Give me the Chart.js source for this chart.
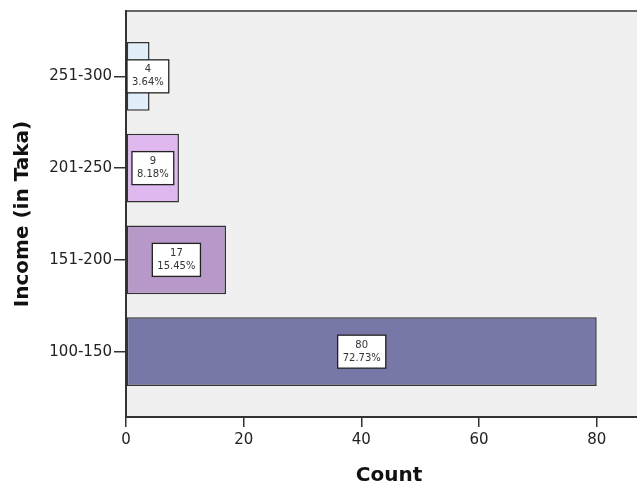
<!DOCTYPE html>
<html>
<head>
<meta charset="utf-8">
<script src="https://cdn.jsdelivr.net/npm/chart.js@4"></script>
<style>
  body { margin: 0; background: #fff; }
  #wrap { width: 637px; height: 489px; overflow: hidden; }
</style>
</head>
<body>
<div id="wrap"><canvas id="chart" width="652" height="489"></canvas></div>
<script>
// data, bottom bar first
const categories = ['100-150', '151-200', '201-250', '251-300']
const counts = [80, 17, 9, 4]
const percents = ['72.73%', '15.45%', '8.18%', '3.64%']
const xTickValues = [0, 20, 40, 60, 80]
const yTickValues = [0, 1, 2, 3]

const barColors = ['#7878a8', '#b898c8', '#e0b8f0', '#e2eef9']

Chart.defaults.font.family = "'DejaVu Sans', sans-serif"
Chart.defaults.color = '#222'

// grey plot background and top frame line
const plotFrame = {
  id: 'plotFrame',
  beforeDraw(chart) {
    const { ctx, chartArea: a } = chart
    ctx.save()
    ctx.fillStyle = '#f0f0f0'
    ctx.fillRect(a.left, a.top, a.right - a.left, a.bottom - a.top)
    ctx.strokeStyle = '#666'
    ctx.lineWidth = 2
    ctx.beginPath()
    ctx.moveTo(a.left, a.top)
    ctx.lineTo(a.right, a.top)
    ctx.stroke()
    ctx.restore()
  }
}

// white boxes with count and percent
const boxLabels = {
  id: 'boxLabels',
  afterDatasetsDraw(chart) {
    const { ctx, chartArea: a } = chart
    const meta = chart.getDatasetMeta(0)
    ctx.save()
    ctx.font = "10px 'DejaVu Sans'"
    ctx.textAlign = 'center'
    ctx.textBaseline = 'middle'
    meta.data.forEach((bar, i) => {
      const top = String(counts[i])
      const bottom = percents[i]
      const w = Math.max(ctx.measureText(top).width, ctx.measureText(bottom).width) + 10
      const h = 33
      let left = (bar.x + bar.base) / 2 - w / 2
      if (left < a.left + 1) left = a.left + 1
      ctx.fillStyle = '#fff'
      ctx.fillRect(left, bar.y - h / 2, w, h)
      ctx.strokeStyle = '#222'
      ctx.lineWidth = 1.3
      ctx.strokeRect(left, bar.y - h / 2, w, h)
      ctx.fillStyle = '#333'
      ctx.fillText(top, left + w / 2, bar.y - 6.5)
      ctx.fillText(bottom, left + w / 2, bar.y + 6.5)
    })
    ctx.restore()
  }
}

new Chart(document.querySelector('#chart'), {
  type: 'bar',
  data: {
    datasets: [{
      data: counts.map((c, i) => ({ x: c, y: yTickValues[i] })),
      backgroundColor: barColors,
      borderColor: '#333',
      borderWidth: 1.5,
      borderSkipped: false,
      categoryPercentage: 1,
      barPercentage: 0.75
    }]
  },
  options: {
    indexAxis: 'y',
    responsive: false,
    animation: false,
    devicePixelRatio: 1,
    layout: { padding: { top: 7, left: 0, right: 0, bottom: 0 } },
    plugins: {
      legend: { display: false },
      tooltip: { enabled: false }
    },
    scales: {
      x: {
        type: 'linear',
        min: 0,
        max: 89.4,
        afterBuildTicks: (s) => { s.ticks = xTickValues.map(v => ({ value: v })) },
        afterFit: (s) => { s.height = 72 },
        grid: { drawOnChartArea: false, drawTicks: true, tickLength: 10, color: '#333', lineWidth: 1.5 },
        border: { color: '#333', width: 2 },
        ticks: { font: { size: 15 }, padding: 4, maxRotation: 0 },
        title: {
          display: true,
          text: 'Count',
          font: { size: 20, weight: 'bold', lineHeight: 1 },
          color: '#111',
          padding: { top: 0, bottom: 3 }
        }
      },
      y: {
        type: 'linear',
        offset: false,
        min: -0.712,
        max: 3.712,
        afterBuildTicks: (s) => { s.ticks = yTickValues.map(v => ({ value: v })) },
        afterFit: (s) => { s.width = 126 },
        grid: { offset: false, drawOnChartArea: false, drawTicks: true, tickLength: 12, color: '#333', lineWidth: 1.5 },
        border: { color: '#333', width: 2 },
        ticks: {
          font: { size: 15 },
          padding: 2,
          callback: (v) => categories[v]
        },
        title: {
          display: true,
          text: 'Income (in Taka)',
          font: { size: 20, weight: 'bold', lineHeight: 1 },
          color: '#111',
          padding: { top: 13, bottom: 0 }
        }
      }
    }
  },
  plugins: [plotFrame, boxLabels]
})
</script>
</body>
</html>
